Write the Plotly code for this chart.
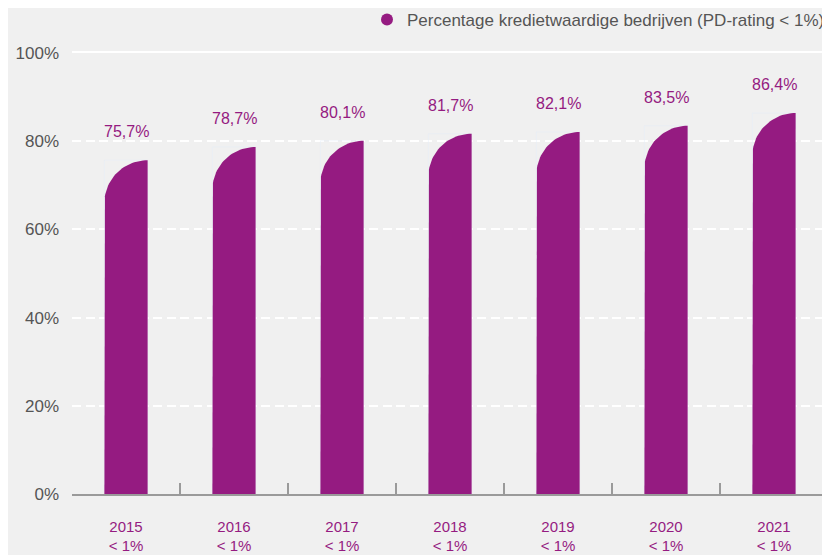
import math
import plotly.graph_objects as go

# data
years = ["2015", "2016", "2017", "2018", "2019", "2020", "2021"]
sub_labels = ["< 1%", "< 1%", "< 1%", "< 1%", "< 1%", "< 1%", "< 1%"]
values = [75.7, 78.7, 80.1, 81.7, 82.1, 83.5, 86.4]
series_name = "Percentage kredietwaardige bedrijven (PD-rating < 1%)"

purple = "#951b81"
grey_txt = "#555555"
bg = "#f0f0f0"

cats = [y + "<br>" + s for y, s in zip(years, sub_labels)]
labels = [("%.1f%%" % v).replace(".", ",") for v in values]

half_w = 0.2      # half bar width in category units
rx = 0.4          # corner radius, x units
ry = 9.7          # corner radius, y units
n_arc = 30

fig = go.Figure()

# invisible bars on the category axis, just to set up the categories / ticks
fig.add_trace(go.Bar(x=cats, y=values, marker_color="rgba(0,0,0,0)",
                     showlegend=False, hoverinfo="skip"))

# bars with a rounded top-left corner, drawn as filled paths on a numeric overlay axis
for i, v in enumerate(values):
    xs = [i - half_w, i - half_w]
    ys = [0, v - ry]
    for k in range(n_arc + 1):
        t = math.pi / 2 * k / n_arc
        xs.append(i + half_w - rx * math.cos(t))
        ys.append(v - ry + ry * math.sin(t))
    xs += [i + half_w, i + half_w, i - half_w]
    ys += [v, 0, 0]
    fig.add_trace(go.Scatter(x=xs, y=ys, xaxis="x2", mode="lines", fill="toself",
                             fillcolor=purple, line=dict(width=0, color=purple),
                             showlegend=False, hoverinfo="skip"))

# value labels above the bars
for i, (v, lab) in enumerate(zip(values, labels)):
    fig.add_annotation(x=i, y=v, xref="x2", yref="y", text=lab, showarrow=False,
                       yanchor="bottom", yshift=18,
                       font=dict(color=purple, size=16, family="Liberation Sans"))

# legend entry
fig.add_trace(go.Scatter(x=[None], y=[None], mode="markers", name=series_name,
                         marker=dict(color=purple, size=17, symbol="circle")))

fig.update_layout(
    width=822, height=547,
    paper_bgcolor=bg, plot_bgcolor=bg,
    margin=dict(l=64, r=2, t=45, b=61),
    font=dict(family="Liberation Sans", color=grey_txt),
    showlegend=True,
    legend=dict(orientation="h", x=1, xanchor="right", xref="container",
                y=0.978, yanchor="middle", yref="container",
                font=dict(size=17, color=grey_txt), bgcolor="rgba(0,0,0,0)",
                itemsizing="constant"),
    xaxis=dict(type="category", range=[-0.5, 6.5], tickson="boundaries",
               ticks="inside", ticklen=11, tickcolor="#9a9a9a", tickwidth=1.5,
               showline=True, linecolor="#9a9a9a", linewidth=1.5,
               showgrid=False, automargin=False, ticklabelstandoff=18,
               tickfont=dict(color=purple, size=15)),
    xaxis2=dict(overlaying="x", range=[-0.5, 6.5], side="top",
                showticklabels=False, showgrid=False, zeroline=False, ticks="",
                showline=True, linecolor="white", linewidth=2),
    yaxis=dict(range=[0, 100], tickvals=[0, 20, 40, 60, 80, 100],
               ticktext=["0%", "20%", "40%", "60%", "80%", "100%"],
               showgrid=True, gridcolor="white", gridwidth=2, griddash="9px,4.5px",
               zeroline=False, ticks="", ticklabelstandoff=12, automargin=False,
               tickfont=dict(size=17, color=grey_txt)),
    bargap=0.6,
)

fig.write_html("out.html")
